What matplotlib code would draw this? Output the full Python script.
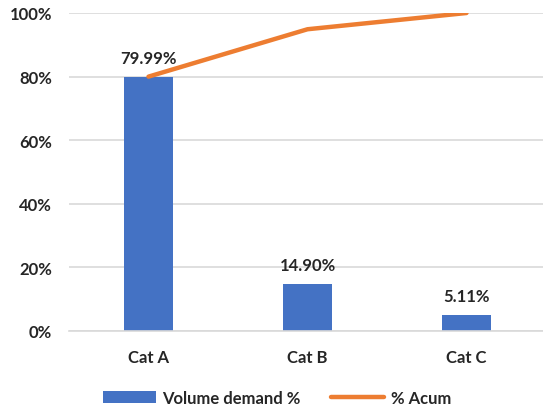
import matplotlib
matplotlib.use("Agg")
import matplotlib.pyplot as plt
from matplotlib.ticker import FuncFormatter

categories = ["Cat A", "Cat B", "Cat C"]
volume_pct = [79.99, 14.90, 5.11]
cum_pct = [79.99, 94.89, 100.0]
bar_labels = ["79.99%", "14.90%", "5.11%"]

plt.rcParams['font.family'] = ['Lato', 'DejaVu Sans']

fig = plt.figure(figsize=(5.43, 4.10), dpi=100)
ax = fig.add_axes([69/543, (410-332)/410, (546-69)/543, (332-14)/410])

x = list(range(len(categories)))
bars = ax.bar(x, volume_pct, width=0.31, color="#4472C4", label="Volume demand %", zorder=2)
line, = ax.plot(x, cum_pct, color="#ED7D31", linewidth=3.2, solid_capstyle="round", label="% Acum", zorder=3)

for xi, v, lab in zip(x, volume_pct, bar_labels):
    ax.annotate(lab, (xi, v), xytext=(0, 8), textcoords="offset points",
                ha="center", va="bottom", fontsize=12, fontweight="bold", color="#262626")

ax.set_xlim(-0.5, 2.5)
ax.set_ylim(0, 100)
ax.set_yticks([0, 20, 40, 60, 80, 100])
ax.yaxis.set_major_formatter(FuncFormatter(lambda v, p: f"{int(v)}%"))
ax.set_xticks(x)
ax.set_xticklabels(categories)
ax.tick_params(axis="both", length=0, labelsize=12, colors="#262626")
for lab in ax.get_xticklabels() + ax.get_yticklabels():
    lab.set_fontweight("bold")
ax.tick_params(axis="x", pad=13)
ax.tick_params(axis="y", pad=12)
ax.grid(axis="y", color="#D9D9D9", linewidth=1.2, zorder=0)
ax.set_axisbelow(True)
for s in ["top", "right", "left"]:
    ax.spines[s].set_visible(False)
ax.spines["bottom"].set_color("#D9D9D9")
ax.spines["bottom"].set_linewidth(1.2)

leg = fig.legend(handles=[bars, line], labels=["Volume demand %", "% Acum"],
                 loc="center", bbox_to_anchor=(0.51, 0.028), ncol=2, frameon=False,
                 prop={"size": 12, "weight": "bold"}, handlelength=3.2,
                 columnspacing=1.8, handletextpad=0.4)
for t in leg.get_texts():
    t.set_color("#262626")

fig.savefig("out.png", dpi=100)
